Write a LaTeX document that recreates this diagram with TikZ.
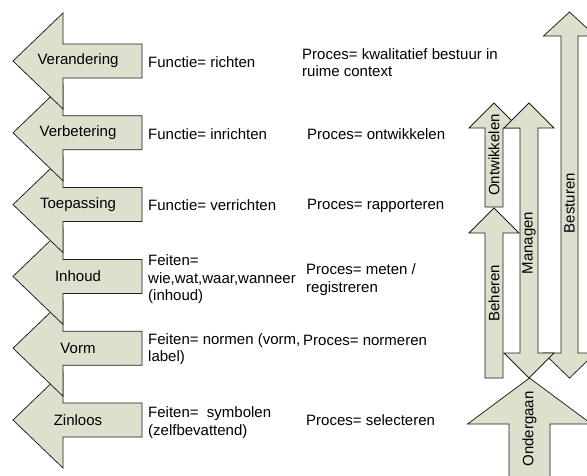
\documentclass[tikz,border=0pt]{standalone}
\usepackage{fontspec}
\setmainfont{Liberation Sans}
\definecolor{arrowfill}{RGB}{221,224,204}
\definecolor{arrowline}{RGB}{30,30,30}
\tikzset{
  blockarrow/.style={fill=arrowfill, draw=arrowline, line width=0.75pt, line join=miter},
  lbl/.style={inner sep=0pt, font=\fontsize{15}{17.5}\selectfont},
  note/.style={lbl, anchor=west, align=left},
  vlbl/.style={lbl, rotate=90},
}
% left-pointing block arrow centred on height #1
\newcommand\leftblock[1]{%
  \filldraw[blockarrow] (13,#1) -- (63,#1-48) -- (63,#1-17) -- (142,#1-17)
    -- (142,#1+17) -- (63,#1+17) -- (63,#1+48) -- cycle;}
\begin{document}
\begin{tikzpicture}[x=1pt,y=-1pt]
\useasboundingbox (0,0) rectangle (587,475);
\fill[white] (0,0) rectangle (587,475);
\clip (0,0) rectangle (587,475);

% ---- stacked left arrows, drawn bottom first so each upper one overlaps
\leftblock{420}
\node[lbl] (zinloos) at (78,420) {Zinloos};
\leftblock{348.2}
\node[lbl] (vorm) at (78,348.2) {Vorm};
\leftblock{276.4}
\node[lbl] (inhoud) at (78,276.4) {Inhoud};
\leftblock{204.6}
\node[lbl] (toepassing) at (78,204.6) {Toepassing};
\leftblock{132.8}
\node[lbl] (verbetering) at (78,132.8) {Verbetering};
\leftblock{61}
\node[lbl] (verandering) at (78,61) {Verandering};

% ---- descriptions
\node[note] (f1) at (148,62) {Functie= richten};
\node[note] (p1) at (302,62.5) {Proces= kwalitatief bestuur in\\ruime context};
\node[note] (f2) at (148,134) {Functie= inrichten};
\node[note] (p2) at (307,134) {Proces= ontwikkelen};
\node[note] (f3) at (148,205.5) {Functie= verrichten};
\node[note] (p3) at (307,205.5) {Proces= rapporteren};
\node[note] (f4) at (148,279.5) {Feiten=\\wie,wat,waar,wanneer\\(inhoud)};
\node[note] (p4) at (306,279.5) {Proces= meten /\\registreren};
\node[note] (f5) at (148,349) {Feiten= normen (vorm,\\label)};
\node[note] (p5) at (303,340.5) {Proces= normeren};
\node[note] (f6) at (148,422.5) {Feiten= \ symbolen\\(zelfbevattend)};
\node[note] (p6) at (306,420) {Proces= selecteren};

% ---- vertical arrows on the right
% Ondergaan (upward, wide)
\filldraw[blockarrow] (529.5,378) -- (591.5,424) -- (550,424) -- (550,485)
  -- (509,485) -- (509,424) -- (467.5,424) -- cycle;
\node[vlbl] (ondergaan) at (529.5,429) {Ondergaan};
% Besturen (double-headed)
\filldraw[blockarrow] (569.5,12) -- (595.5,36) -- (578,36) -- (578,353)
  -- (595.5,353) -- (569.5,378) -- (543.5,353) -- (561,353) -- (561,36)
  -- (543.5,36) -- cycle;
\node[vlbl] (besturen) at (569.5,203) {Besturen};
% Ontwikkelen (upward)
\filldraw[blockarrow] (494,103) -- (519,128) -- (503,128) -- (503,207)
  -- (485,207) -- (485,128) -- (469,128) -- cycle;
\node[vlbl] (ontwikkelen) at (494,155) {Ontwikkelen};
% Beheren (upward)
\filldraw[blockarrow] (494,208) -- (519,233) -- (503,233) -- (503,378)
  -- (485,378) -- (485,233) -- (469,233) -- cycle;
\node[vlbl] (beheren) at (494,293) {Beheren};
% Managen (double-headed)
\filldraw[blockarrow] (529,103) -- (554,128) -- (538,128) -- (538,353)
  -- (554,353) -- (529,378) -- (504,353) -- (520,353) -- (520,128)
  -- (504,128) -- cycle;
\node[vlbl] (managen) at (529,243) {Managen};
\end{tikzpicture}
\end{document}
